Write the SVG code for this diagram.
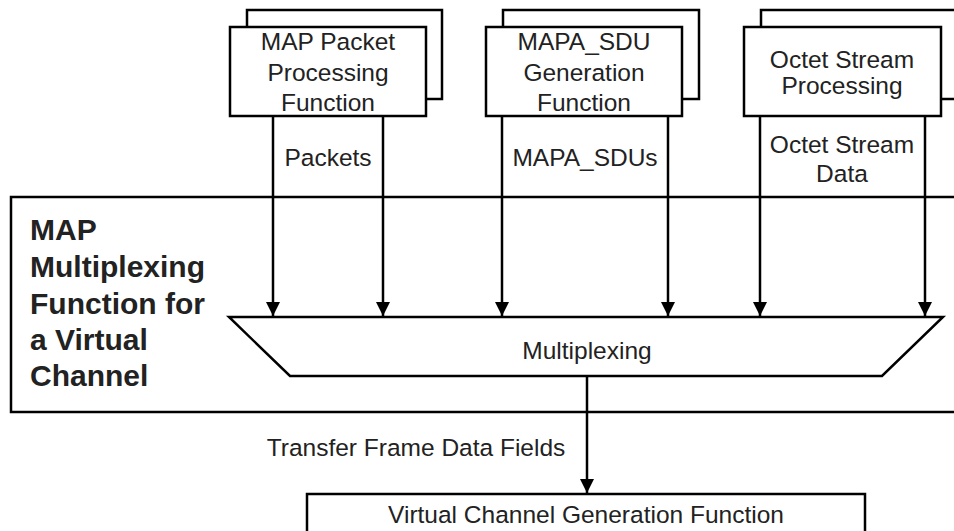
<svg xmlns="http://www.w3.org/2000/svg" width="954" height="531" viewBox="0 0 954 531">
<style>
.b{fill:#fff;stroke:#000;stroke-width:2.5}
.l{fill:none;stroke:#000;stroke-width:2.5}
text{font-family:"Liberation Sans",Arial,sans-serif;font-size:24.5px;fill:#222;text-anchor:middle}
.bold{font-weight:bold;font-size:30px;text-anchor:start;fill:#222}
</style>
<defs>
<marker id="ad" markerUnits="userSpaceOnUse" markerWidth="14" markerHeight="14" viewBox="0 0 14 14" refX="7" refY="14" orient="0">
<path d="M0,0 L14,0 L7,14 z" fill="#000"/>
</marker>
</defs>
<g id="container">
<rect class="b" x="11" y="197" width="960" height="215"/>
<text class="bold" x="30" y="240">MAP</text>
<text class="bold" x="30" y="277">Multiplexing</text>
<text class="bold" x="30" y="314">Function for</text>
<text class="bold" x="30" y="350">a Virtual</text>
<text class="bold" x="30" y="386">Channel</text>
</g>
<g id="map-packet">
<rect class="b" x="247" y="10" width="195" height="89"/>
<rect class="b" x="230" y="27" width="196" height="89"/>
<text x="328" y="50">MAP Packet</text>
<text x="328" y="81">Processing</text>
<text x="328" y="111">Function</text>
</g>
<g id="mapa-sdu">
<rect class="b" x="503" y="10" width="196" height="89"/>
<rect class="b" x="486" y="27" width="196" height="89"/>
<text x="584" y="50">MAPA_SDU</text>
<text x="584" y="81">Generation</text>
<text x="584" y="111">Function</text>
</g>
<g id="octet-stream">
<rect class="b" x="761" y="10" width="220" height="89"/>
<rect class="b" x="744" y="27" width="197" height="89"/>
<text x="842" y="68">Octet Stream</text>
<text x="842" y="94">Processing</text>
</g>
<g id="multiplexing">
<polygon class="b" points="229,317 943,317 882,376 290,376"/>
<text x="587" y="359">Multiplexing</text>
</g>
<g id="vc-generation">
<rect class="b" x="307" y="494" width="558" height="60"/>
<text x="586" y="523">Virtual Channel Generation Function</text>
</g>
<g id="connectors">
<line class="l" x1="273" y1="116" x2="273" y2="316" marker-end="url(#ad)"/>
<line class="l" x1="383" y1="116" x2="383" y2="316" marker-end="url(#ad)"/>
<line class="l" x1="502" y1="116" x2="502" y2="316" marker-end="url(#ad)"/>
<line class="l" x1="668" y1="116" x2="668" y2="316" marker-end="url(#ad)"/>
<line class="l" x1="760" y1="116" x2="760" y2="316" marker-end="url(#ad)"/>
<line class="l" x1="925" y1="116" x2="925" y2="316" marker-end="url(#ad)"/>
<line class="l" x1="587" y1="376" x2="587" y2="493" marker-end="url(#ad)"/>
<text x="328" y="166">Packets</text>
<text x="585" y="166">MAPA_SDUs</text>
<text x="842" y="153">Octet Stream</text>
<text x="842" y="182">Data</text>
<text x="416" y="456">Transfer Frame Data Fields</text>
</g>
</svg>
